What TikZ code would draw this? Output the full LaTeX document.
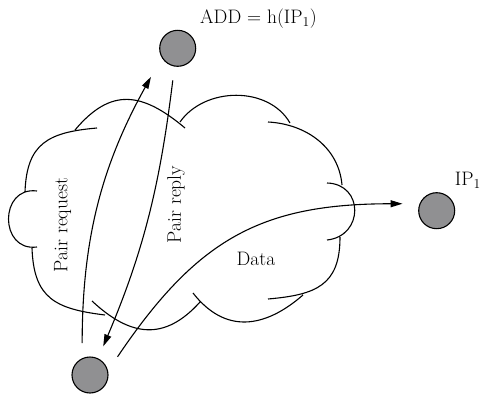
\documentclass[tikz,border=0pt]{standalone}
\usepackage{fontspec}
\usetikzlibrary{positioning, arrows.meta}
\definecolor{mPeerGray}{HTML}{909092}

\begin{document}
\begin{tikzpicture}[
  x=1pt, y=1pt,
  peer/.style={
    circle,
    fill=mPeerGray,
    draw=black,
    line width=1.1pt,
    minimum size=36pt,
    inner sep=0pt
  },
  lbl/.style={
    font=\fontsize{19.5}{23}\selectfont,
    inner sep=0pt
  },
  lobe/.style={
    line width=1.1pt
  },
  msg/.style={
    line width=1.1pt,
    -{Triangle[length=12pt,width=7pt]}
  }
]
\useasboundingbox (0,0) rectangle (482,-396);

% peers
\node[peer] (dht) at (177.7,-48.3) {};
\node[peer] (dest) at (436.7,-210.7) {};
\node[peer] (src) at (90,-375) {};

\node[lbl, anchor=base west] (addlbl) at (200,-23.3) {ADD = h(IP\textsubscript{1})};
\node[lbl, anchor=base east] (iplbl) at (481,-185) {IP\textsubscript{1}};

% cloud, one lobe at a time
\draw[lobe]
  (37,-191) .. controls (-1,-186) and (-1,-252) .. (37,-247)
  (25,-192) to[out=88,in=185,looseness=1.3] (97,-128)
  (75,-130) to[out=50,in=140,looseness=1.3] (185,-128)
  (180,-122) to[out=55,in=120] (290,-123)
  (268,-122) to[out=-3,in=95] (342,-185)
  (327,-183) .. controls (364,-184) and (364,-236) .. (327,-240)
  (340,-237) to[out=-90,in=5,looseness=1.3] (268,-299)
  (193,-293) to[out=-52,in=221,looseness=1.2] (303,-295)
  (92,-301) to[out=-43,in=228,looseness=1.25] (200,-302)
  (32,-248) to[out=-88,in=173,looseness=1.3] (105,-315);

% messages
\draw[msg, shorten <=15pt, shorten >=22pt] (src.115) to[out=90,in=241] (dht.210);
\draw[msg, shorten <=14pt, shorten >=13pt] (dht.260) to[out=263,in=67] (src.64);
\draw[msg, shorten <=17pt, shorten >=17pt] (src.13) to[out=56,in=180,looseness=1.15] (dest.158);

\node[lbl, rotate=90] (reqlbl) at (62.5,-225) {Pair request};
\node[lbl, rotate=90] (replbl) at (176,-204.5) {Pair reply};
\node[lbl] (datalbl) at (256,-258.5) {Data};

\end{tikzpicture}
\end{document}
